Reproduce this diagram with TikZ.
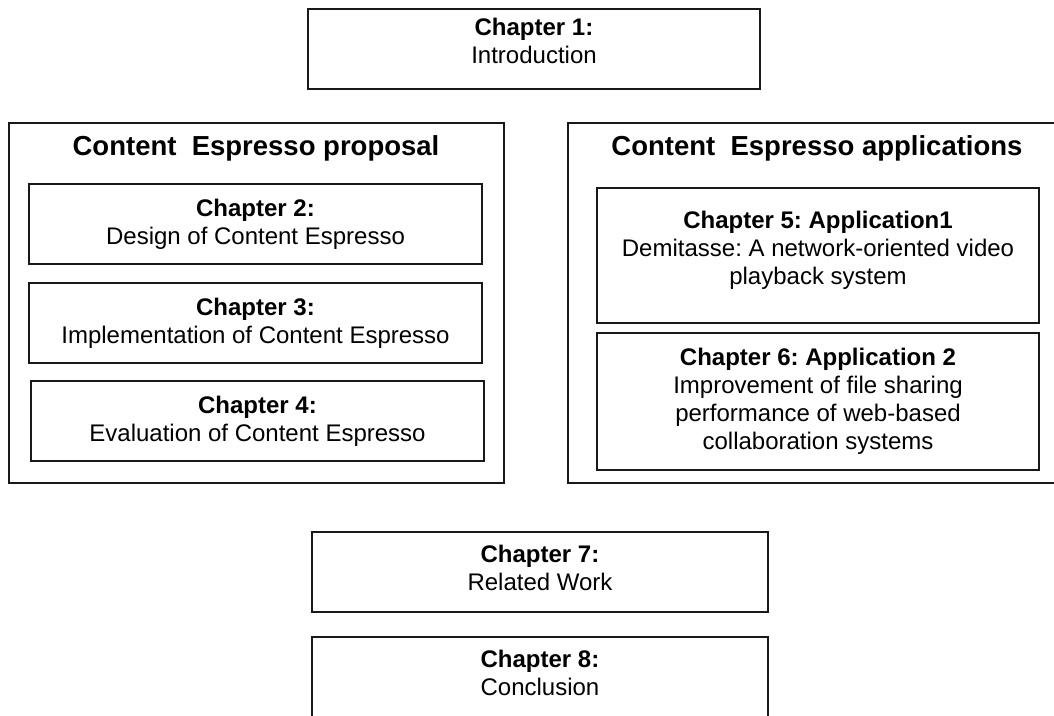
\documentclass[tikz,border=0pt]{standalone}
\usepackage{fontspec}
\setmainfont{Liberation Sans}
\frenchspacing
\begin{document}
\begin{tikzpicture}[x=1pt,y=-1pt,
  chapbox/.style={draw=black!90, line width=1.4pt, rectangle, inner sep=0pt},
  chaptext/.style={inner sep=0pt, align=center, font=\fontsize{24}{28}\selectfont},
  groupbox/.style={draw=black!90, line width=1.4pt, rectangle, inner sep=0pt},
  grouptitle/.style={inner sep=0pt, font=\fontsize{27.5}{32}\selectfont\bfseries}]
\useasboundingbox (0,0) rectangle (1054,715);

% introduction
\node[chapbox, minimum width=452pt, minimum height=80pt] (ch1) at (534,49) {};
\node[chaptext, yshift=8pt] (ch1t) at (ch1.center) {\textbf{Chapter 1:}\\Introduction};

% proposal group
\node[groupbox, minimum width=495pt, minimum height=360pt] (prop) at (256.5,303) {};
\node[grouptitle] (propT) at (256,148) {Content~ Espresso proposal};
\node[chapbox, minimum width=453pt, minimum height=80pt] (ch2) at (255.5,224) {};
\node[chaptext] (ch2t) at (ch2.center) {\textbf{Chapter 2:}\\Design of Content Espresso};
\node[chapbox, minimum width=453pt, minimum height=80pt] (ch3) at (255.5,323) {};
\node[chaptext] (ch3t) at (ch3.center) {\textbf{Chapter 3:}\\Implementation of Content Espresso};
\node[chapbox, minimum width=453pt, minimum height=80pt] (ch4) at (257.5,421) {};
\node[chaptext] (ch4t) at (ch4.center) {\textbf{Chapter 4:}\\Evaluation of Content Espresso};

% applications group
\node[groupbox, minimum width=488pt, minimum height=360pt] (appl) at (812,303) {};
\node[grouptitle] (applT) at (817,148) {Content~ Espresso applications};
\node[chapbox, minimum width=442pt, minimum height=135pt] (ch5) at (818,255.5) {};
\node[chaptext, yshift=5pt] (ch5t) at (ch5.center)
  {\textbf{Chapter 5: Application1}\\Demitasse: A network-oriented video\\playback system};
\node[chapbox, minimum width=442pt, minimum height=137pt] (ch6) at (818,401.5) {};
\node[chaptext] (ch6t) at (ch6.center)
  {\textbf{Chapter 6: Application 2}\\Improvement of file sharing\\performance of web-based\\collaboration systems};

% closing chapters
\node[chapbox, minimum width=456pt, minimum height=80pt] (ch7) at (540,572) {};
\node[chaptext, yshift=4pt] (ch7t) at (ch7.center) {\textbf{Chapter 7:}\\Related Work};
\node[chapbox, minimum width=456pt, minimum height=80pt] (ch8) at (540,677) {};
\node[chaptext, yshift=4pt] (ch8t) at (ch8.center) {\textbf{Chapter 8:}\\Conclusion};
\end{tikzpicture}
\end{document}
